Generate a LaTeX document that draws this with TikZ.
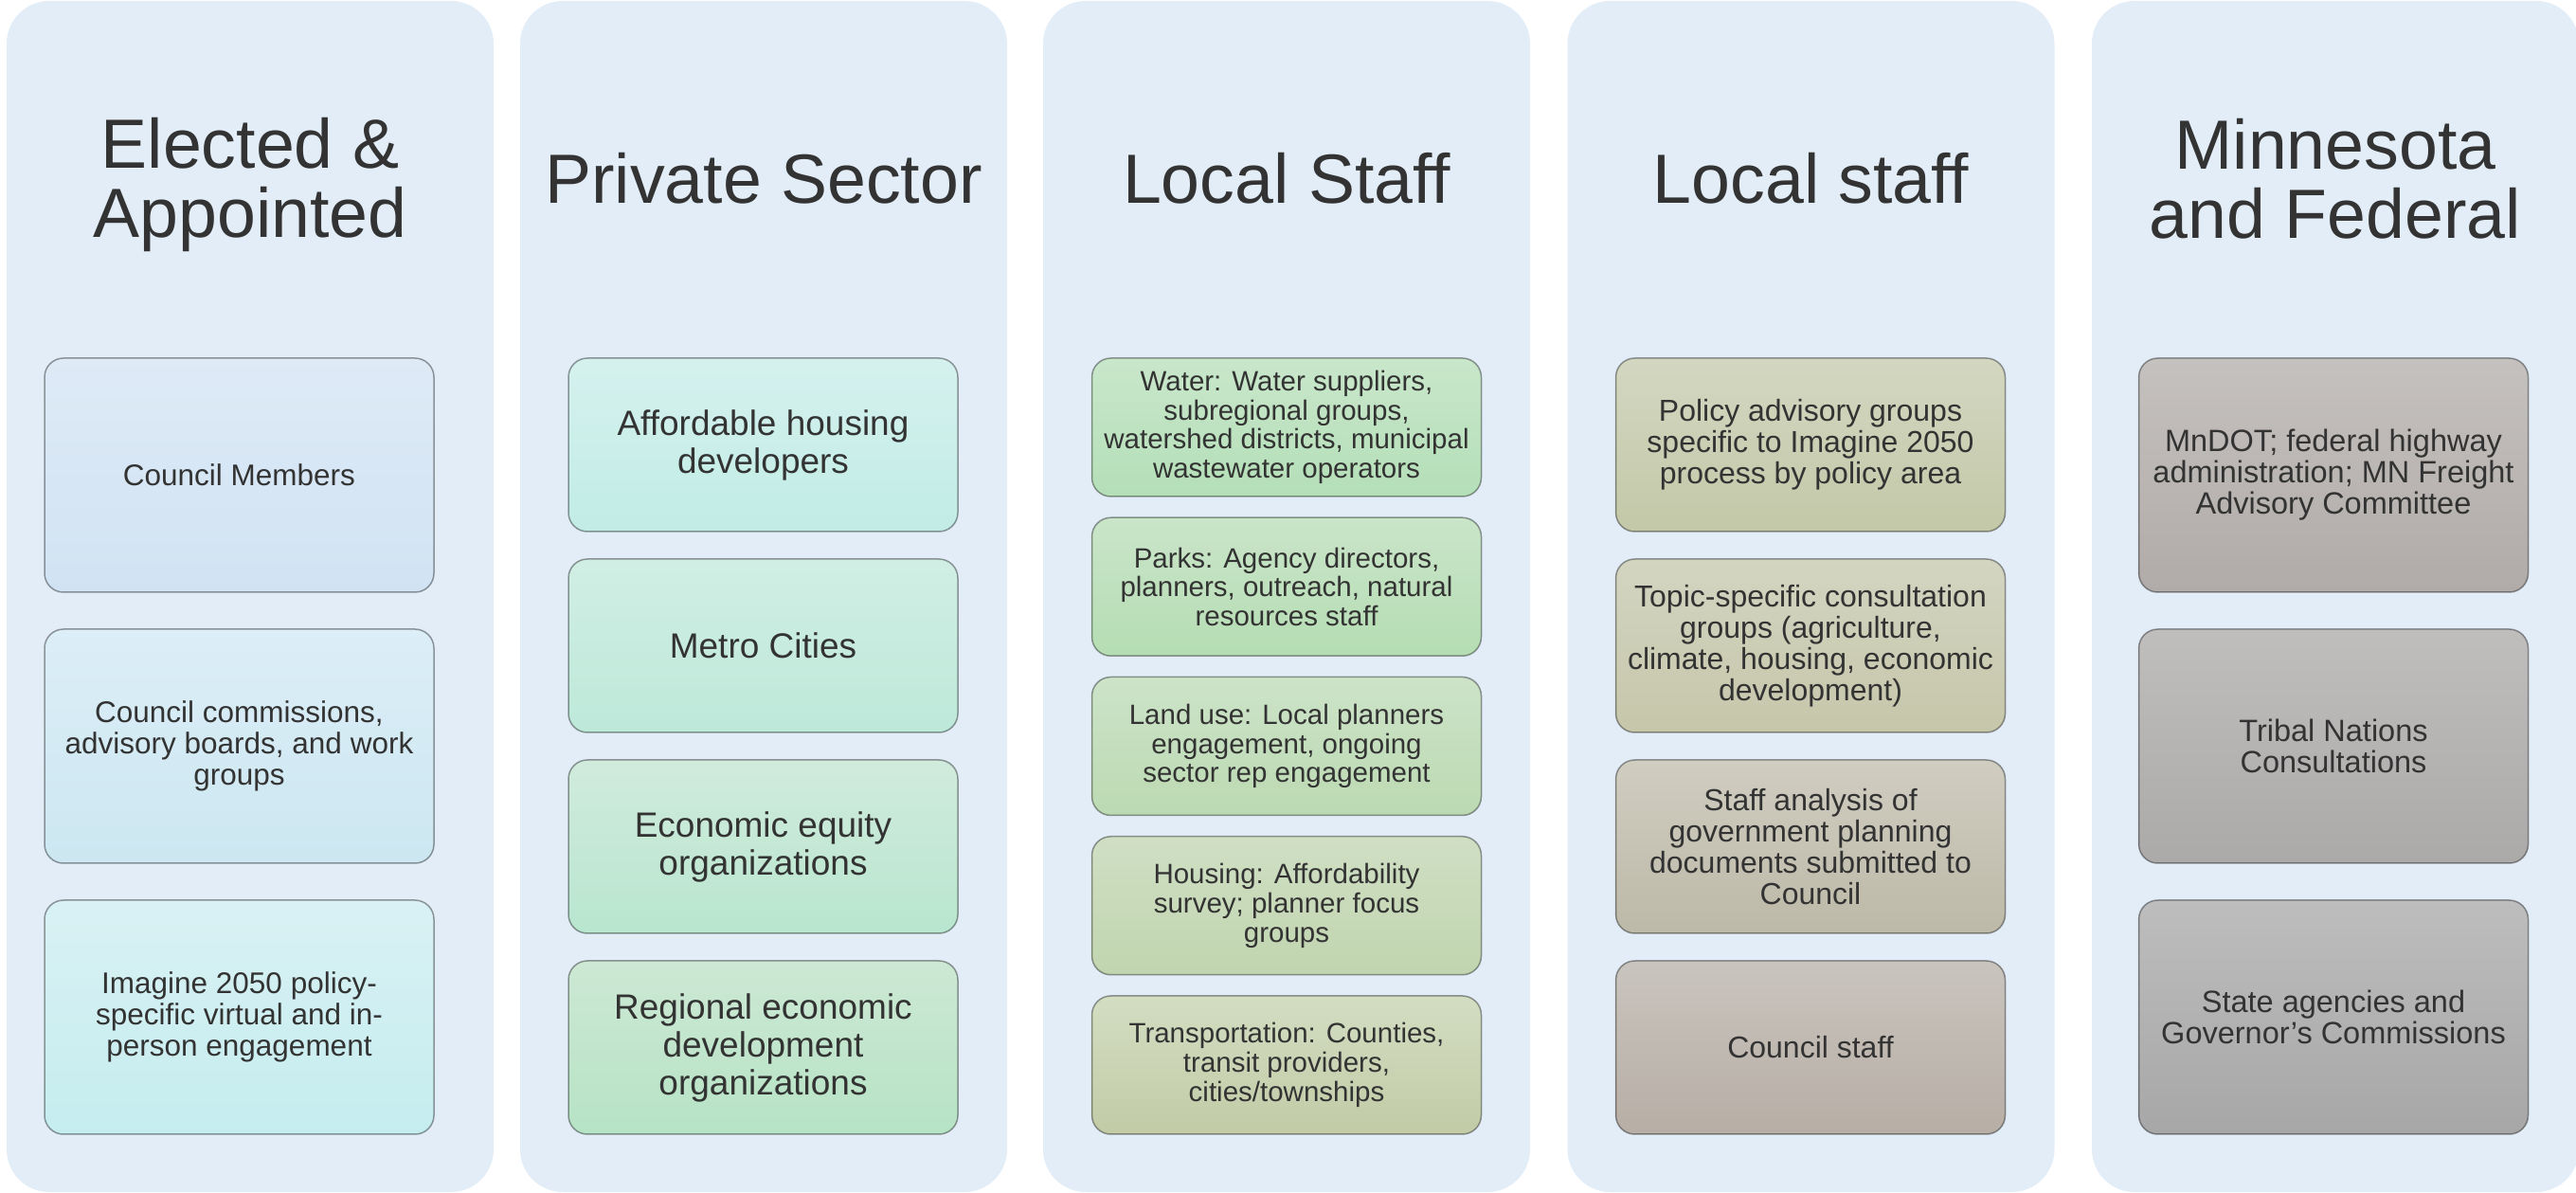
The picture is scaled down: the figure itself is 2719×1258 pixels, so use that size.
\documentclass[tikz,border=0pt]{standalone}
\usepackage{fontspec}
\setmainfont{Liberation Sans}
\usepackage{tikz}
\usetikzlibrary{positioning}

\definecolor{lanebg}{RGB}{226,237,248}
\definecolor{txt}{RGB}{51,51,51}
% elected & appointed
\definecolor{ea1t}{RGB}{222,234,246}\definecolor{ea1b}{RGB}{209,227,243}
\definecolor{ea2t}{RGB}{220,238,247}\definecolor{ea2b}{RGB}{204,231,241}
\definecolor{ea3t}{RGB}{217,241,244}\definecolor{ea3b}{RGB}{197,237,239}
% private sector
\definecolor{ps1t}{RGB}{213,241,238}\definecolor{ps1b}{RGB}{193,236,229}
\definecolor{ps2t}{RGB}{209,238,228}\definecolor{ps2b}{RGB}{189,233,217}
\definecolor{ps3t}{RGB}{209,235,221}\definecolor{ps3b}{RGB}{184,230,206}
\definecolor{ps4t}{RGB}{205,232,212}\definecolor{ps4b}{RGB}{182,227,197}
% local staff
\definecolor{ls1t}{RGB}{201,231,203}\definecolor{ls1b}{RGB}{180,223,183}
\definecolor{ls2t}{RGB}{202,229,201}\definecolor{ls2b}{RGB}{181,221,179}
\definecolor{ls3t}{RGB}{205,227,200}\definecolor{ls3b}{RGB}{187,218,178}
\definecolor{ls4t}{RGB}{208,223,196}\definecolor{ls4b}{RGB}{192,213,175}
\definecolor{ls5t}{RGB}{211,221,194}\definecolor{ls5b}{RGB}{194,203,166}
% local staff (policy)
\definecolor{lp1t}{RGB}{211,215,193}\definecolor{lp1b}{RGB}{195,200,168}
\definecolor{lp2t}{RGB}{211,213,193}\definecolor{lp2b}{RGB}{198,198,170}
\definecolor{lp3t}{RGB}{208,205,193}\definecolor{lp3b}{RGB}{189,185,168}
\definecolor{lp4t}{RGB}{201,196,190}\definecolor{lp4b}{RGB}{183,174,165}
% minnesota and federal
\definecolor{mf1t}{RGB}{197,193,190}\definecolor{mf1b}{RGB}{176,171,168}
\definecolor{mf2t}{RGB}{192,189,189}\definecolor{mf2b}{RGB}{172,169,169}
\definecolor{mf3t}{RGB}{189,189,189}\definecolor{mf3b}{RGB}{167,167,167}

\tikzset{
	lane/.style={fill=lanebg, rounded corners=45pt, minimum width=514pt, minimum height=1257pt, inner sep=0pt},
	head/.style={text=txt, align=center, inner sep=0pt, font=\fontsize{73.5}{73}\selectfont},
	item/.style={draw=black, draw opacity=0.38, line width=1.5pt, rounded corners=20pt, minimum width=411pt, text=txt, align=center, inner sep=0pt, outer sep=0pt},
	big/.style={item, minimum height=247pt},
	mid/.style={item, minimum height=183pt},
	small/.style={item, minimum height=146pt},
	shade/.style 2 args={top color=#1, bottom color=#2}
}

\begin{document}
\begin{tikzpicture}[x=1pt, y=1pt]

	\useasboundingbox (0,0) rectangle (2719,1258);

	\node [lane] (c1) at (264,628.5) {};
	\node [lane] (c2) at (806,628.5) {};
	\node [lane] (c3) at (1358,628.5) {};
	\node [lane] (c4) at (1911.5,628.5) {};
	\node [lane] (c5) at (2465,628.5) {};

	\node [head] (h1) at ([yshift=-194pt]c1.north) {Elected \&\\Appointed};
	\node [head] (h2) at ([yshift=-187pt]c2.north) {Private Sector};
	\node [head] (h3) at ([yshift=-187pt]c3.north) {Local Staff};
	\node [head] (h4) at ([yshift=-187pt]c4.north) {Local staff};
	\node [head] (h5) at ([yshift=-188pt]c5.north) {Minnesota\\and Federal};

	\begin{scope}[every node/.append style={font=\fontsize{31.5}{33}\selectfont}]
	\node [big, shade={ea1t}{ea1b}, anchor=north] (e1) at (252.5,880) {Council Members};
	\node [big, shade={ea2t}{ea2b}, below=39pt of e1] (e2) {Council commissions,\\advisory boards, and work\\groups};
	\node [big, shade={ea3t}{ea3b}, below=39pt of e2] (e3) {Imagine 2050 policy-\\specific virtual and in-\\person engagement};
	\end{scope}

	\begin{scope}[every node/.append style={font=\fontsize{37}{40}\selectfont}]
	\node [mid, shade={ps1t}{ps1b}, anchor=north] (p1) at (805.5,880) {Affordable housing\\developers};
	\node [mid, shade={ps2t}{ps2b}, below=29pt of p1] (p2) {Metro Cities};
	\node [mid, shade={ps3t}{ps3b}, below=29pt of p2] (p3) {Economic equity\\organizations};
	\node [mid, shade={ps4t}{ps4b}, below=29pt of p3] (p4) {Regional economic\\development\\organizations};
	\end{scope}

	\begin{scope}[every node/.append style={font=\fontsize{29.5}{30.7}\selectfont}]
	\node [small, shade={ls1t}{ls1b}, anchor=north] (s1) at (1358,880) {Water: Water suppliers,\\subregional groups,\\watershed districts, municipal\\wastewater operators};
	\node [small, shade={ls2t}{ls2b}, below=22.25pt of s1] (s2) {Parks: Agency directors,\\planners, outreach, natural\\resources staff};
	\node [small, shade={ls3t}{ls3b}, below=22.25pt of s2] (s3) {Land use: Local planners\\engagement, ongoing\\sector rep engagement};
	\node [small, shade={ls4t}{ls4b}, below=22.25pt of s3] (s4) {Housing: Affordability\\survey; planner focus\\groups};
	\node [small, shade={ls5t}{ls5b}, below=22.25pt of s4] (s5) {Transportation: Counties,\\transit providers,\\cities/townships};
	\end{scope}

	\begin{scope}[every node/.append style={font=\fontsize{32}{33}\selectfont}]
	\node [mid, shade={lp1t}{lp1b}, anchor=north] (l1) at (1911,880) {Policy advisory groups\\specific to Imagine 2050\\process by policy area};
	\node [mid, shade={lp2t}{lp2b}, below=29pt of l1] (l2) {Topic-specific consultation\\groups (agriculture,\\climate, housing, economic\\development)};
	\node [mid, shade={lp3t}{lp3b}, below=29pt of l2] (l3) {Staff analysis of\\government planning\\documents submitted to\\Council};
	\node [mid, shade={lp4t}{lp4b}, below=29pt of l3] (l4) {Council staff};
	\end{scope}

	\begin{scope}[every node/.append style={font=\fontsize{32.5}{33}\selectfont}]
	\node [big, shade={mf1t}{mf1b}, anchor=north] (m1) at (2463,880) {MnDOT; federal highway\\administration; MN Freight\\Advisory Committee};
	\node [big, shade={mf2t}{mf2b}, below=39pt of m1] (m2) {Tribal Nations\\Consultations};
	\node [big, shade={mf3t}{mf3b}, below=39pt of m2] (m3) {State agencies and\\Governor’s Commissions};
	\end{scope}

\end{tikzpicture}
\end{document}
